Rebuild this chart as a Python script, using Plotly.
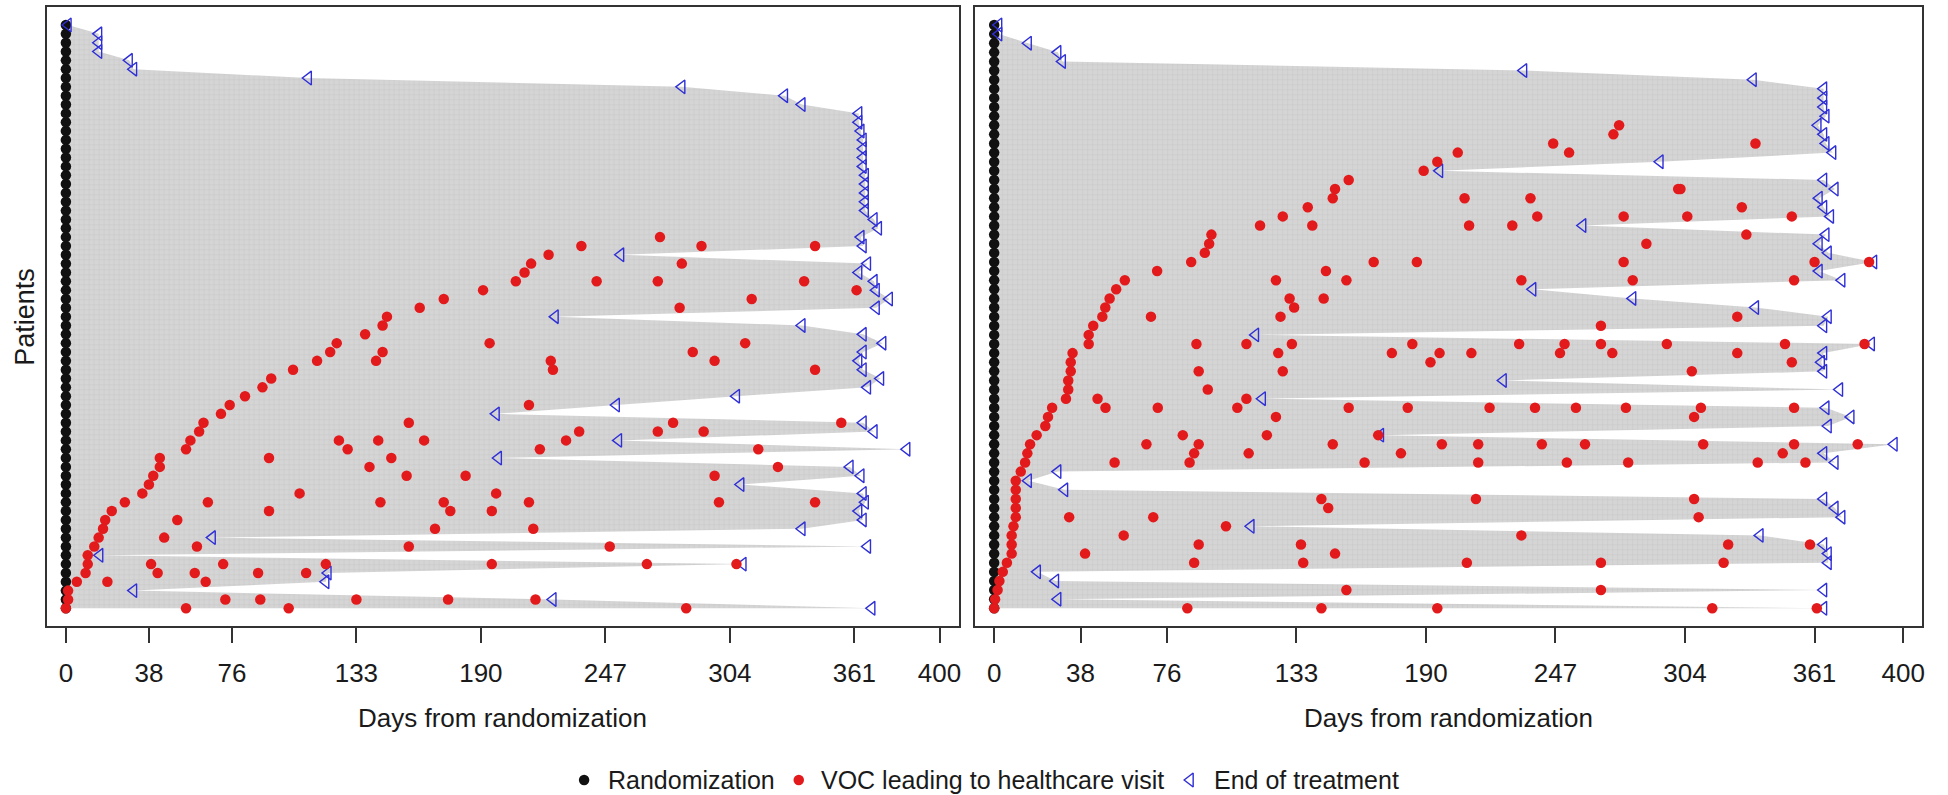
import plotly.graph_objects as go

# ---------------- data (rows numbered from the bottom, 1..n) ----------------
TICK_VALUES = [0, 38, 76, 133, 190, 247, 304, 361, 400]
X_TITLE = "Days from randomization"
Y_TITLE = "Patients"
LEGEND_NAMES = ["Randomization", "VOC leading to healthcare visit", "End of treatment"]

# Left panel: end of treatment day per patient
left_end = [369, 223, 31, 119, 120, 310, 15.5, 367, 67, 337,
            365, 363, 366, 365, 309, 364, 359, 198, 385, 253,
            370, 365, 197, 252, 307, 367, 373, 365, 363, 365,
            374, 365, 337, 224, 371, 377, 371, 370, 363, 367,
            254, 365, 364, 372, 370, 366, 366, 366, 366, 366,
            365, 365, 365, 365, 364, 363, 363, 337, 329, 282,
            111, 31, 29, 15, 15, 15, 1]

# Left panel: VOC days per patient
left_voc = [
    [0, 55, 102, 284], [1, 73, 89, 133, 175, 215], [1], [5, 19, 64],
    [9, 42, 59, 88, 110], [10, 39, 72, 119, 195, 266, 307], [10],
    [13, 60, 157, 249], [15, 45], [17, 169, 214], [18, 51],
    [21, 93, 176, 195], [27, 65, 144, 173, 212, 299, 343], [35, 107, 197],
    [38], [40, 156, 183, 297], [43, 139, 326], [43, 93, 149],
    [55, 129, 217, 317], [57, 125, 143, 164, 229], [61, 235, 271, 292],
    [63, 157, 278, 355], [71], [75, 212], [82], [90], [94],
    [104, 223, 343], [115, 142, 222, 297], [121, 145, 287],
    [124, 194, 311], [137], [145], [147], [162, 281], [173, 314],
    [191, 362], [206, 243, 271, 338], [210], [213, 282], [221],
    [236, 291, 343], [272],
    [], [], [], [], [], [], [], [], [], [], [], [], [], [], [], [], [], [], [], [], [], [], [], [],
]

# Right panel: end of treatment day per patient
right_end = [365, 28, 365, 27, 19, 367, 367, 365, 337, 113,
             373, 370, 365, 31, 15, 28, 370, 365, 396, 170,
             367, 377, 366, 118, 372, 224, 365, 364, 365, 386,
             115, 365, 367, 335, 281, 237, 373, 363, 387, 367,
             363, 366, 259, 368, 365, 363, 370, 365, 196, 293,
             369, 366, 365, 362.5, 366, 365, 365, 365, 334, 233,
             30, 28, 15, 2, 2]

# Right panel: VOC days per patient
right_voc = [
    [0, 85, 144, 195, 316, 362], [0.4], [1.5, 155, 267], [2.3], [3.8],
    [5.6, 88, 136, 208, 267, 321], [7.7, 40, 150], [7.7, 90, 135, 323, 359],
    [7.7, 57, 232], [8.5, 102], [9.5, 33, 70, 310], [9.5, 147],
    [9.5, 144, 212, 308], [9.5], [9.5], [11.7],
    [13.6, 53, 86, 163, 213, 252, 279, 336, 357],
    [14.6, 88, 112, 179, 347],
    [15.8, 67, 90, 149, 197, 213, 241, 260, 312, 352, 380],
    [18.7, 83, 120, 169], [22.5], [23.7, 124, 308],
    [25.5, 49, 72, 107, 156, 182, 218, 238, 256, 278, 311, 352],
    [31.6, 45.5, 111], [32.6, 94], [32.6], [33.7, 90, 127, 307],
    [33.7, 192, 351], [34.5, 125, 175, 196, 210, 249, 272, 327],
    [41.6, 89, 111, 131, 184, 231, 251, 267, 296, 348, 383],
    [41.6], [43.6, 267], [47.6, 69, 126, 327], [48.9, 132],
    [50.8, 130, 145], [53.7], [57.5, 124, 155, 232, 281, 352],
    [71.7, 146], [86.7, 167, 186, 277, 361, 385], [92.7], [94.6, 287],
    [95.6, 331], [117, 140, 209, 228], [127, 239, 277, 305, 351],
    [138, 329], [149, 207, 236], [150, 301, 302], [156], [189], [195],
    [204, 253], [246, 335], [272.5], [275],
    [], [], [], [], [], [], [], [], [], [], [],
]

# ---------------- styling ----------------
W, H = 1948, 795
FONT = "Arial, 'Liberation Sans', Helvetica, sans-serif"
GRAY_BG = "#d5d5d5"
GRAY_FG = "#b8b8b8"
RED = "#e31a1c"
BLUE = "#2f2fd6"
BLACK = "#111111"
TEXT = "#1a1a1a"

# pixel geometry of the two plot boxes
LEFT_BOX = (46.7, 960.0)
RIGHT_BOX = (976.7, 1925.0)
TOP_PX, BOTTOM_PX = 7.3, 626.3

# legend layout (pixels from the left / top of the figure)
LEGEND_Y_PX = 780
LEGEND_SYMBOL_X = [585, 800, 1192]
LEGEND_TEXT_X = [607, 820, 1214]

fig = go.Figure()

SYMBOLS = [
    dict(symbol="circle", size=10.5, color=BLACK),
    dict(symbol="circle", size=10.5, color=RED),
    dict(symbol="triangle-left-open", size=12, color=BLUE,
         line=dict(width=1.4, color=BLUE)),
]


def add_panel(ends, vocs, xa, ya):
    n = len(ends)
    rows = list(range(1, n + 1))
    # gray treatment-duration polygon
    fig.add_trace(go.Scatter(
        x=[0] + list(ends) + [0], y=[1] + rows + [n],
        mode="lines", fill="toself",
        line=dict(width=0, color="rgba(0,0,0,0)"),
        fillcolor=GRAY_BG,
        fillpattern=dict(shape="+", size=5, solidity=0.2,
                         fgcolor=GRAY_FG, bgcolor=GRAY_BG),
        hoverinfo="skip", showlegend=False, xaxis=xa, yaxis=ya))
    # randomization
    fig.add_trace(go.Scatter(
        x=[0] * n, y=rows, mode="markers", marker=SYMBOLS[0],
        name=LEGEND_NAMES[0], showlegend=False, xaxis=xa, yaxis=ya))
    # end of treatment
    fig.add_trace(go.Scatter(
        x=list(ends), y=rows, mode="markers", marker=SYMBOLS[2],
        name=LEGEND_NAMES[2], showlegend=False, xaxis=xa, yaxis=ya))
    # VOC events
    vx, vy = [], []
    for r, days in zip(rows, vocs):
        for d in days:
            vx.append(d)
            vy.append(r)
    fig.add_trace(go.Scatter(
        x=vx, y=vy, mode="markers", marker=SYMBOLS[1],
        name=LEGEND_NAMES[1], showlegend=False, xaxis=xa, yaxis=ya))


add_panel(left_end, left_voc, "x", "y")
add_panel(right_end, right_voc, "x2", "y2")

# legend keys drawn on an invisible pixel-scaled strip at the bottom
for i in range(3):
    fig.add_trace(go.Scatter(
        x=[LEGEND_SYMBOL_X[i]], y=[LEGEND_Y_PX], mode="markers",
        marker=SYMBOLS[i], showlegend=False, hoverinfo="skip",
        xaxis="x3", yaxis="y3"))


def xrange_for(box, zero_px, px_per_day):
    return [(box[0] - zero_px) / px_per_day, (box[1] - zero_px) / px_per_day]


def yrange_for(n):
    step = (608.3 - 25.0) / (n - 1)
    lo = 1 - (BOTTOM_PX - 608.3) / step
    hi = n + (25.0 - TOP_PX) / step
    return [lo, hi]


y_dom = [1 - BOTTOM_PX / H, 1 - TOP_PX / H]

xaxis_common = dict(
    tickmode="array", tickvals=TICK_VALUES,
    ticktext=[str(v) for v in TICK_VALUES],
    ticks="outside", ticklen=15, tickwidth=1.5, tickcolor="#333333",
    tickfont=dict(family=FONT, size=26, color=TEXT),
    ticklabelstandoff=8,
    showline=True, mirror=True, linecolor="#333333", linewidth=1.5,
    showgrid=False, zeroline=False, fixedrange=True,
)
yaxis_common = dict(
    showticklabels=False, ticks="", showgrid=False, zeroline=False,
    showline=True, mirror=True, linecolor="#333333", linewidth=1.5,
    domain=y_dom, fixedrange=True,
)

annotations = [
    dict(text=X_TITLE, xref="paper", yref="paper",
         x=sum(LEFT_BOX) / 2 / W, y=1 - 718 / H,
         xanchor="center", yanchor="middle", showarrow=False,
         font=dict(family=FONT, size=26, color=TEXT)),
    dict(text=X_TITLE, xref="paper", yref="paper",
         x=sum(RIGHT_BOX) / 2 / W, y=1 - 718 / H,
         xanchor="center", yanchor="middle", showarrow=False,
         font=dict(family=FONT, size=26, color=TEXT)),
    dict(text=Y_TITLE, xref="paper", yref="paper",
         x=25 / W, y=1 - (TOP_PX + BOTTOM_PX) / 2 / H,
         xanchor="center", yanchor="middle", textangle=-90,
         showarrow=False,
         font=dict(family=FONT, size=27, color=TEXT)),
]
for i in range(3):
    annotations.append(dict(
        text=LEGEND_NAMES[i], xref="x3", yref="y3",
        x=LEGEND_TEXT_X[i], y=LEGEND_Y_PX,
        xanchor="left", yanchor="middle", showarrow=False,
        font=dict(family=FONT, size=25, color=TEXT)))

STRIP_TOP = 740
fig.update_layout(
    width=W, height=H,
    margin=dict(l=0, r=0, t=0, b=0),
    paper_bgcolor="white", plot_bgcolor="rgba(0,0,0,0)",
    font=dict(family=FONT, color=TEXT),
    showlegend=False,
    xaxis=dict(domain=[LEFT_BOX[0] / W, LEFT_BOX[1] / W],
               range=xrange_for(LEFT_BOX, 66.0, 2.1875), anchor="y",
               **xaxis_common),
    yaxis=dict(range=yrange_for(len(left_end)), anchor="x", **yaxis_common),
    xaxis2=dict(domain=[RIGHT_BOX[0] / W, RIGHT_BOX[1] / W],
                range=xrange_for(RIGHT_BOX, 995.7, 2.276), anchor="y2",
                **xaxis_common),
    yaxis2=dict(range=yrange_for(len(right_end)), anchor="x2", **yaxis_common),
    xaxis3=dict(domain=[0, 1], range=[0, W], visible=False, fixedrange=True,
                anchor="y3"),
    yaxis3=dict(domain=[0, (H - STRIP_TOP) / H], range=[H, STRIP_TOP],
                visible=False, fixedrange=True, anchor="x3"),
    annotations=annotations,
)

fig.write_html("out.html")
